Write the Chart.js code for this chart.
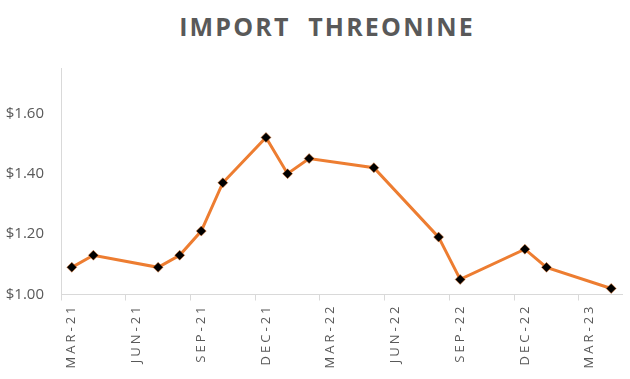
<!DOCTYPE html>
<html>
<head>
<meta charset="utf-8">
<script src="https://cdn.jsdelivr.net/npm/chart.js@4"></script>
<style>
  body { margin: 0; background: #fff; }
  .wrap { position: relative; width: 630px; height: 379px; }
  .title {
    position: absolute; left: 24px; top: 9px; width: 606px; text-align: center;
    font-family: 'Open Sans', sans-serif; font-weight: bold; font-size: 25px;
    letter-spacing: 2.2px; color: #595959; white-space: pre;
  }
  canvas { position: absolute; left: 0; top: 0; }
</style>
</head>
<body>
<div class="wrap">
  <div class="title">IMPORT  THREONINE</div>
  <canvas id="myChart" width="630" height="379"></canvas>
</div>
<script>
// data
const dates = ['Mar-21', 'Apr-21', 'Jul-21', 'Aug-21', 'Sep-21', 'Oct-21', 'Dec-21', 'Jan-22',
  'Feb-22', 'May-22', 'Aug-22', 'Sep-22', 'Dec-22', 'Jan-23', 'Apr-23'];
const prices = [1.09, 1.13, 1.09, 1.13, 1.21, 1.37, 1.52, 1.40,
  1.45, 1.42, 1.19, 1.05, 1.15, 1.09, 1.02];
const tickLabels = ['MAR-21', 'JUN-21', 'SEP-21', 'DEC-21', 'MAR-22', 'JUN-22', 'SEP-22', 'DEC-22', 'MAR-23'];
const yTicks = [1.00, 1.20, 1.40, 1.60];

const monthNames = ['Jan', 'Feb', 'Mar', 'Apr', 'May', 'Jun', 'Jul', 'Aug', 'Sep', 'Oct', 'Nov', 'Dec'];

// months counted from Mar-21
function monthIndex(d) {
    const parts = d.split('-');
    const m = monthNames.indexOf(parts[0]);
    const y = 2000 + parseInt(parts[1]);
    return (y - 2021) * 12 + m - 2;
}

const points = dates.map((d, i) => ({ x: monthIndex(d), y: prices[i] }));

// tick marks sit between months, labels in the middle of the month
const xTickValues = [];
tickLabels.forEach((t, i) => {
    xTickValues.push(i * 3 - 0.5);
    xTickValues.push(i * 3);
});

const spacedLabels = {
    id: 'spacedLabels',
    beforeDraw(chart) {
        const s = chart.scales.x;
        if (s._spaced) return;
        const orig = s.drawLabels.bind(s);
        s.drawLabels = function (area) {
            this.ctx.save();
            this.ctx.letterSpacing = '3px';
            orig(area);
            this.ctx.restore();
        };
        s._spaced = true;
    }
};

new Chart('myChart', {
    type: 'line',
    data: {
        datasets: [{
            data: points,
            borderColor: '#ED7D31',
            borderWidth: 3,
            tension: 0,
            pointStyle: 'rectRot',
            pointRadius: 5,
            pointBackgroundColor: '#000',
            pointBorderColor: 'rgba(237,125,49,0.5)',
            pointBorderWidth: 1
        }]
    },
    options: {
        responsive: false,
        animation: false,
        layout: { padding: { top: 68, right: 8, left: 0, bottom: 0 } },
        plugins: { legend: { display: false }, tooltip: { enabled: false } },
        scales: {
            x: {
                type: 'linear',
                min: -0.5,
                max: 25.5,
                afterBuildTicks: (scale) => { scale.ticks = xTickValues.map(v => ({ value: v })); },
                afterFit: (scale) => { scale.height = 84.5; },
                border: { color: '#d9d9d9', width: 1 },
                grid: {
                    drawOnChartArea: false,
                    tickLength: 6,
                    color: (ctx) => (ctx.tick && Number.isInteger(ctx.tick.value)) ? 'rgba(0,0,0,0)' : '#d9d9d9'
                },
                ticks: {
                    autoSkip: false,
                    minRotation: 90,
                    maxRotation: 90,
                    padding: 3,
                    color: '#595959',
                    font: { family: 'Open Sans', size: 13 },
                    callback: (v) => Number.isInteger(v) ? tickLabels[v / 3] : ''
                }
            },
            y: {
                min: 1.0,
                max: 1.75,
                afterBuildTicks: (scale) => { scale.ticks = yTicks.map(v => ({ value: v })); },
                afterFit: (scale) => { scale.width = 61; },
                border: { color: '#d9d9d9', width: 1 },
                grid: { display: false, drawTicks: false },
                ticks: {
                    padding: 17,
                    color: '#595959',
                    font: { family: 'Open Sans', size: 15 },
                    callback: (v) => '$' + v.toFixed(2)
                }
            }
        }
    },
    plugins: [spacedLabels]
});
</script>
</body>
</html>
